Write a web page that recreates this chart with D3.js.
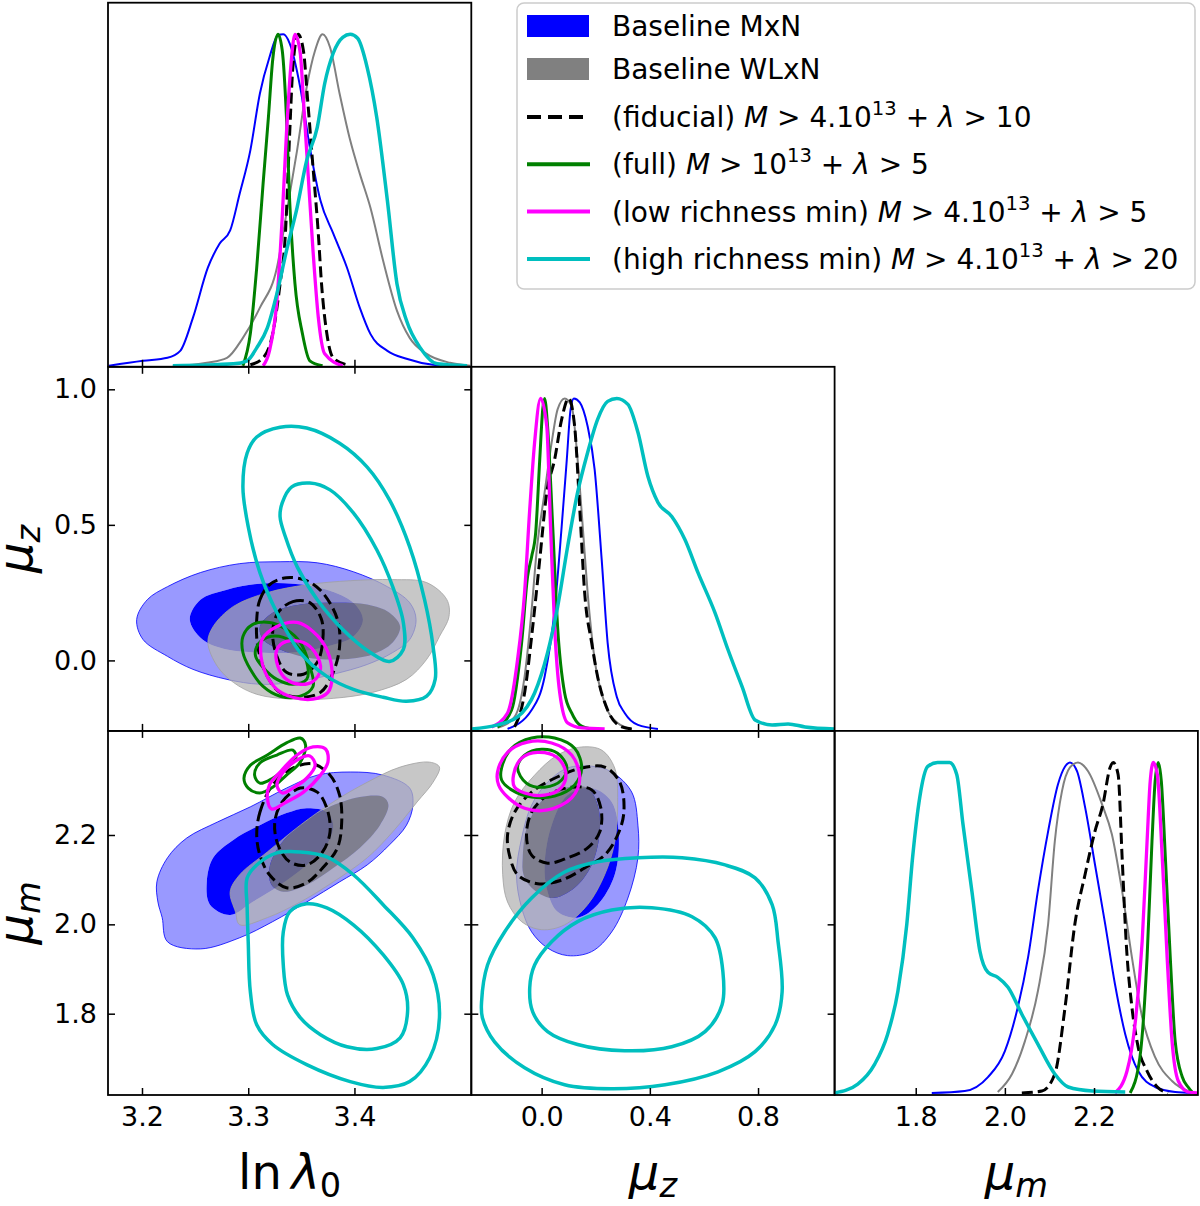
<!DOCTYPE html>
<html>
<head>
<meta charset="utf-8">
<script src="https://cdn.jsdelivr.net/npm/d3@7"></script>
<style>
  body { margin: 0; background: #fff; }
  svg { display: block; font-family: "DejaVu Sans", sans-serif; }
</style>
</head>
<body>
<svg id="fig" width="1200" height="1206"></svg>
<script>
// ---- parameter ranges and tick labels ----
const lnLDomain = [3.168, 3.510];
const muzDomain = [-0.26, 1.083];
const mumDomain = [1.618, 2.433];
const lnLTicks = [3.2, 3.3, 3.4];
const muzXTicks = [0.0, 0.4, 0.8];
const muzYTicks = [0.0, 0.5, 1.0];
const mumTicks = [1.8, 2.0, 2.2];

// ---- 1D marginals: [value, normalised density] ----
const mxnLnL = [[3.169,0.003],[3.201,0.018],[3.224,0.027],[3.236,0.048],[3.248,0.148],[3.262,0.298],[3.273,0.370],[3.283,0.410],[3.292,0.521],[3.302,0.651],[3.311,0.822],[3.320,0.931],[3.328,0.997],[3.333,1.0],[3.339,0.973],[3.349,0.840],[3.358,0.660],[3.368,0.500],[3.380,0.401],[3.393,0.298],[3.405,0.178],[3.415,0.099],[3.431,0.048],[3.449,0.024],[3.474,0.006],[3.509,0.0]];
const wlxnLnL = [[3.229,0.002],[3.261,0.012],[3.280,0.027],[3.295,0.087],[3.311,0.178],[3.327,0.298],[3.336,0.461],[3.346,0.651],[3.355,0.840],[3.363,0.952],[3.370,1.0],[3.377,0.961],[3.386,0.822],[3.396,0.681],[3.405,0.581],[3.415,0.479],[3.427,0.319],[3.440,0.169],[3.452,0.087],[3.468,0.039],[3.490,0.012],[3.509,0.003]];
const fidLnL = [[3.302,0.006],[3.314,0.027],[3.323,0.099],[3.330,0.25],[3.335,0.40],[3.339,0.70],[3.342,0.90],[3.347,1.0],[3.352,0.95],[3.356,0.80],[3.361,0.60],[3.366,0.40],[3.369,0.25],[3.374,0.10],[3.380,0.027],[3.393,0.006]];
const fullLnL = [[3.295,0.003],[3.302,0.10],[3.308,0.298],[3.314,0.551],[3.319,0.75],[3.323,0.922],[3.328,1.0],[3.332,0.952],[3.336,0.75],[3.339,0.50],[3.344,0.25],[3.351,0.10],[3.358,0.018],[3.370,0.003]];
const lowLnL = [[3.314,0.003],[3.320,0.048],[3.327,0.199],[3.332,0.449],[3.336,0.702],[3.340,0.90],[3.344,1.0],[3.349,0.943],[3.352,0.801],[3.356,0.599],[3.361,0.349],[3.366,0.148],[3.372,0.039],[3.389,0.003]];
const highLnL = [[3.229,0.003],[3.286,0.009],[3.299,0.018],[3.308,0.057],[3.318,0.117],[3.327,0.22],[3.336,0.349],[3.346,0.479],[3.355,0.62],[3.365,0.72],[3.372,0.852],[3.380,0.943],[3.389,0.991],[3.396,1.0],[3.403,0.988],[3.412,0.90],[3.421,0.75],[3.431,0.50],[3.440,0.25],[3.449,0.139],[3.462,0.057],[3.478,0.009],[3.506,0.003]];

const mxnMuz = [[-0.126,0.006],[-0.037,0.063],[0.011,0.163],[0.048,0.364],[0.074,0.614],[0.093,0.816],[0.107,0.967],[0.119,1.0],[0.141,0.988],[0.170,0.916],[0.196,0.786],[0.222,0.515],[0.244,0.265],[0.278,0.102],[0.307,0.054],[0.356,0.018],[0.430,0.006]];
const wlxnMuz = [[-0.163,0.009],[-0.1,0.042],[-0.063,0.163],[-0.037,0.364],[-0.019,0.536],[0.011,0.717],[0.037,0.867],[0.059,0.967],[0.085,1.0],[0.111,0.976],[0.133,0.816],[0.152,0.614],[0.170,0.416],[0.196,0.214],[0.233,0.084],[0.281,0.024],[0.333,0.006]];
const fidMuz = [[-0.1,0.012],[-0.063,0.114],[-0.033,0.313],[-0.007,0.515],[0.019,0.717],[0.048,0.816],[0.074,0.937],[0.1,1.0],[0.122,0.916],[0.141,0.666],[0.159,0.416],[0.185,0.265],[0.207,0.163],[0.244,0.063],[0.296,0.012],[0.333,0.006]];
const fullMuz = [[-0.163,0.012],[-0.111,0.063],[-0.074,0.265],[-0.052,0.464],[-0.037,0.524],[-0.022,0.596],[-0.007,0.816],[0.004,0.967],[0.011,1.0],[0.022,0.916],[0.041,0.614],[0.059,0.313],[0.085,0.114],[0.111,0.054],[0.141,0.018],[0.185,0.006]];
const lowMuz = [[-0.185,0.012],[-0.126,0.054],[-0.089,0.214],[-0.063,0.416],[-0.044,0.666],[-0.026,0.867],[-0.004,1.0],[0.019,0.916],[0.033,0.614],[0.048,0.313],[0.067,0.114],[0.096,0.024],[0.148,0.009],[0.233,0.006]];
const highMuz = [[-0.259,0.006],[-0.163,0.018],[-0.089,0.042],[-0.026,0.114],[0.022,0.235],[0.059,0.373],[0.096,0.554],[0.133,0.717],[0.170,0.837],[0.207,0.937],[0.244,0.991],[0.278,1.0],[0.319,0.982],[0.356,0.898],[0.393,0.765],[0.430,0.687],[0.481,0.645],[0.530,0.575],[0.578,0.476],[0.641,0.355],[0.689,0.244],[0.741,0.133],[0.789,0.033],[0.852,0.018],[0.911,0.021],[0.974,0.012],[1.083,0.006]];

const mxnMum = [[1.836,0.006],[1.910,0.012],[1.962,0.054],[2.0,0.132],[2.029,0.264],[2.052,0.414],[2.074,0.613],[2.097,0.793],[2.119,0.934],[2.135,0.988],[2.146,1.0],[2.162,0.973],[2.180,0.865],[2.202,0.694],[2.225,0.514],[2.247,0.333],[2.270,0.183],[2.299,0.072],[2.337,0.024],[2.382,0.009],[2.420,0.006]];
const wlxnMum = [[1.984,0.009],[2.016,0.063],[2.045,0.162],[2.074,0.312],[2.097,0.514],[2.112,0.763],[2.128,0.913],[2.146,0.985],[2.164,1.0],[2.187,0.973],[2.218,0.874],[2.240,0.784],[2.263,0.613],[2.285,0.414],[2.308,0.234],[2.337,0.114],[2.375,0.042],[2.411,0.012],[2.431,0.006]];
const fidMum = [[2.038,0.006],[2.083,0.012],[2.112,0.063],[2.135,0.264],[2.157,0.514],[2.180,0.664],[2.202,0.793],[2.220,0.874],[2.236,0.985],[2.243,1.0],[2.254,0.964],[2.263,0.715],[2.272,0.462],[2.285,0.264],[2.299,0.144],[2.319,0.072],[2.342,0.024],[2.366,0.006]];
const fullMum = [[2.281,0.006],[2.303,0.114],[2.319,0.414],[2.330,0.763],[2.337,0.943],[2.344,1.0],[2.351,0.943],[2.360,0.715],[2.371,0.414],[2.382,0.162],[2.398,0.054],[2.411,0.024],[2.422,0.006]];
const lowMum = [[2.247,0.006],[2.274,0.072],[2.292,0.213],[2.308,0.462],[2.319,0.763],[2.326,0.943],[2.333,1.0],[2.342,0.964],[2.353,0.715],[2.364,0.414],[2.375,0.162],[2.389,0.042],[2.411,0.009],[2.431,0.006]];
const highMum = [[1.618,0.006],[1.670,0.033],[1.708,0.093],[1.737,0.183],[1.760,0.312],[1.780,0.514],[1.793,0.715],[1.809,0.895],[1.827,0.988],[1.849,1.0],[1.876,1.0],[1.892,0.964],[1.906,0.814],[1.926,0.613],[1.944,0.432],[1.962,0.369],[1.984,0.354],[2.007,0.324],[2.038,0.243],[2.074,0.153],[2.112,0.063],[2.142,0.024],[2.196,0.012],[2.270,0.009]];

// ---- 2D contours (68% and 95%): ln lambda0 vs mu_z ----
const mxnA68 = [[3.245,0.151],[3.255,0.224],[3.280,0.261],[3.311,0.283],[3.342,0.283],[3.374,0.261],[3.399,0.213],[3.408,0.151],[3.399,0.088],[3.374,0.051],[3.342,0.029],[3.311,0.029],[3.280,0.040],[3.257,0.077]];
const mxnA95 = [[3.195,0.151],[3.205,0.224],[3.224,0.272],[3.255,0.324],[3.292,0.357],[3.330,0.364],[3.365,0.360],[3.399,0.327],[3.431,0.272],[3.452,0.213],[3.458,0.151],[3.452,0.077],[3.436,0.029],[3.412,-0.015],[3.380,-0.051],[3.342,-0.081],[3.311,-0.088],[3.280,-0.070],[3.248,-0.033],[3.224,0.015],[3.201,0.077]];
const wlxnA68 = [[3.311,0.125],[3.323,0.176],[3.349,0.206],[3.380,0.213],[3.412,0.206],[3.433,0.176],[3.443,0.125],[3.436,0.066],[3.417,0.022],[3.386,0.004],[3.355,0.011],[3.330,0.040],[3.314,0.077]];
const wlxnA95 = [[3.262,0.066],[3.267,0.125],[3.286,0.199],[3.318,0.25],[3.355,0.279],[3.396,0.294],[3.436,0.298],[3.468,0.287],[3.487,0.224],[3.489,0.162],[3.480,0.088],[3.468,0.004],[3.449,-0.070],[3.417,-0.118],[3.380,-0.140],[3.342,-0.143],[3.308,-0.125],[3.286,-0.081],[3.271,-0.022]];
const fidA68 = [[3.328,0.176],[3.342,0.217],[3.358,0.213],[3.369,0.151],[3.370,0.066],[3.365,-0.007],[3.352,-0.051],[3.336,-0.044],[3.327,0.015],[3.323,0.103]];
const fidA95 = [[3.308,0.151],[3.311,0.224],[3.320,0.279],[3.336,0.305],[3.355,0.294],[3.370,0.25],[3.384,0.151],[3.386,0.051],[3.380,-0.044],[3.368,-0.118],[3.349,-0.136],[3.330,-0.118],[3.318,-0.059],[3.309,0.051]];
const fullA68 = [[3.308,0.051],[3.318,0.085],[3.333,0.085],[3.349,0.040],[3.356,-0.022],[3.355,-0.070],[3.342,-0.088],[3.327,-0.070],[3.314,-0.026],[3.307,0.015]];
const fullA95 = [[3.295,0.088],[3.304,0.132],[3.320,0.140],[3.336,0.114],[3.349,0.066],[3.358,-0.022],[3.361,-0.096],[3.349,-0.132],[3.330,-0.132],[3.314,-0.096],[3.302,-0.033],[3.295,0.029]];
const lowA68 = [[3.327,0.040],[3.336,0.070],[3.352,0.066],[3.363,0.029],[3.368,-0.033],[3.361,-0.077],[3.349,-0.088],[3.336,-0.070],[3.328,-0.022]];
const lowA95 = [[3.313,0.077],[3.327,0.125],[3.346,0.140],[3.361,0.107],[3.374,0.040],[3.379,-0.059],[3.375,-0.118],[3.361,-0.143],[3.342,-0.136],[3.327,-0.107],[3.316,-0.044],[3.312,0.015]];
const highA68 = [[3.332,0.581],[3.341,0.640],[3.358,0.654],[3.377,0.629],[3.399,0.544],[3.421,0.408],[3.436,0.272],[3.446,0.140],[3.446,0.040],[3.433,-0.004],[3.415,0.029],[3.389,0.114],[3.365,0.224],[3.346,0.346],[3.335,0.456],[3.330,0.529]];
const highA95 = [[3.299,0.765],[3.308,0.824],[3.330,0.860],[3.355,0.857],[3.386,0.801],[3.412,0.713],[3.433,0.592],[3.452,0.419],[3.466,0.224],[3.474,0.051],[3.476,-0.070],[3.468,-0.132],[3.449,-0.151],[3.427,-0.136],[3.399,-0.107],[3.374,-0.059],[3.349,0.029],[3.327,0.176],[3.311,0.324],[3.300,0.493],[3.295,0.640]];

// ---- ln lambda0 vs mu_m ----
const mxnB68 = [[3.261,2.095],[3.267,2.149],[3.286,2.189],[3.311,2.222],[3.336,2.249],[3.355,2.260],[3.374,2.251],[3.380,2.222],[3.374,2.178],[3.355,2.133],[3.330,2.088],[3.304,2.050],[3.283,2.021],[3.264,2.044]];
const mxnB95 = [[3.214,2.095],[3.224,2.149],[3.242,2.193],[3.271,2.229],[3.302,2.263],[3.336,2.305],[3.365,2.334],[3.396,2.341],[3.427,2.334],[3.452,2.305],[3.455,2.267],[3.449,2.222],[3.433,2.178],[3.412,2.133],[3.386,2.095],[3.355,2.050],[3.323,2.006],[3.292,1.970],[3.255,1.945],[3.224,1.961],[3.219,2.015],[3.215,2.050]];
const wlxnB68 = [[3.320,2.126],[3.330,2.178],[3.349,2.222],[3.374,2.260],[3.405,2.285],[3.427,2.285],[3.432,2.267],[3.424,2.222],[3.405,2.171],[3.380,2.126],[3.355,2.088],[3.333,2.073],[3.322,2.088]];
const wlxnB95 = [[3.283,2.073],[3.292,2.111],[3.318,2.162],[3.349,2.222],[3.380,2.274],[3.412,2.318],[3.443,2.352],[3.471,2.363],[3.480,2.352],[3.474,2.318],[3.459,2.274],[3.436,2.207],[3.412,2.149],[3.380,2.095],[3.349,2.050],[3.318,2.015],[3.292,1.999],[3.288,2.028]];
const fidB68 = [[3.325,2.229],[3.332,2.274],[3.349,2.305],[3.365,2.296],[3.374,2.260],[3.377,2.207],[3.370,2.162],[3.355,2.133],[3.339,2.140],[3.328,2.178]];
const fidB95 = [[3.308,2.2],[3.311,2.251],[3.323,2.312],[3.342,2.350],[3.361,2.359],[3.377,2.334],[3.386,2.289],[3.388,2.229],[3.384,2.171],[3.370,2.126],[3.355,2.093],[3.336,2.082],[3.320,2.111],[3.311,2.155]];
const fullB68 = [[3.306,2.334],[3.311,2.361],[3.327,2.379],[3.342,2.390],[3.345,2.374],[3.336,2.350],[3.323,2.327],[3.311,2.316]];
const fullB95 = [[3.296,2.327],[3.302,2.356],[3.318,2.379],[3.336,2.406],[3.349,2.417],[3.354,2.401],[3.349,2.363],[3.336,2.334],[3.323,2.307],[3.311,2.294],[3.300,2.305]];
const lowB68 = [[3.327,2.312],[3.333,2.341],[3.346,2.368],[3.358,2.377],[3.363,2.356],[3.355,2.327],[3.342,2.305],[3.332,2.294]];
const lowB95 = [[3.318,2.283],[3.320,2.312],[3.330,2.341],[3.346,2.379],[3.361,2.397],[3.373,2.392],[3.375,2.363],[3.368,2.334],[3.352,2.296],[3.336,2.274],[3.322,2.258]];
const highB68 = [[3.333,1.983],[3.339,2.028],[3.355,2.046],[3.374,2.037],[3.399,1.999],[3.427,1.932],[3.446,1.865],[3.450,1.804],[3.443,1.746],[3.421,1.722],[3.393,1.726],[3.368,1.753],[3.349,1.791],[3.337,1.842],[3.333,1.909]];
const highB95 = [[3.299,2.104],[3.308,2.133],[3.327,2.160],[3.349,2.162],[3.374,2.151],[3.399,2.111],[3.427,2.044],[3.455,1.970],[3.474,1.887],[3.480,1.791],[3.471,1.702],[3.452,1.648],[3.427,1.635],[3.396,1.648],[3.355,1.686],[3.323,1.731],[3.308,1.775],[3.302,1.849],[3.300,1.961],[3.299,2.037]];

// ---- mu_z vs mu_m ----
const mxnC68 = [[0.011,2.133],[0.037,2.222],[0.096,2.289],[0.185,2.305],[0.259,2.274],[0.285,2.2],[0.270,2.111],[0.207,2.044],[0.133,2.015],[0.059,2.028],[0.022,2.073]];
const mxnC95 = [[-0.093,2.111],[-0.074,2.193],[-0.037,2.267],[0.022,2.318],[0.096,2.350],[0.185,2.354],[0.259,2.341],[0.333,2.296],[0.356,2.222],[0.356,2.149],[0.319,2.059],[0.259,1.983],[0.185,1.939],[0.096,1.930],[0.022,1.947],[-0.037,1.983],[-0.074,2.037]];
const wlxnC68 = [[-0.070,2.149],[-0.052,2.222],[0.011,2.283],[0.096,2.307],[0.170,2.305],[0.207,2.267],[0.215,2.207],[0.185,2.133],[0.122,2.082],[0.037,2.059],[-0.037,2.082],[-0.067,2.111]];
const wlxnC95 = [[-0.144,2.111],[-0.137,2.2],[-0.1,2.274],[-0.026,2.334],[0.059,2.379],[0.148,2.397],[0.222,2.390],[0.270,2.350],[0.281,2.274],[0.270,2.184],[0.233,2.111],[0.170,2.044],[0.085,1.999],[0.0,1.988],[-0.074,2.006],[-0.126,2.050]];
const fidC68 = [[-0.056,2.2],[-0.037,2.251],[0.022,2.289],[0.111,2.307],[0.185,2.301],[0.219,2.260],[0.215,2.207],[0.170,2.171],[0.096,2.149],[0.022,2.137],[-0.037,2.155]];
const fidC95 = [[-0.126,2.2],[-0.1,2.251],[-0.037,2.296],[0.048,2.327],[0.148,2.350],[0.233,2.352],[0.289,2.318],[0.304,2.251],[0.281,2.2],[0.233,2.155],[0.159,2.126],[0.074,2.099],[-0.015,2.091],[-0.089,2.111],[-0.119,2.155]];
const fullC68 = [[-0.089,2.350],[-0.063,2.379],[0.0,2.392],[0.059,2.383],[0.093,2.352],[0.074,2.323],[0.011,2.307],[-0.056,2.316]];
const fullC95 = [[-0.148,2.350],[-0.111,2.394],[-0.037,2.417],[0.048,2.417],[0.122,2.394],[0.148,2.350],[0.122,2.312],[0.048,2.287],[-0.037,2.285],[-0.111,2.301],[-0.148,2.323]];
const lowC68 = [[-0.104,2.334],[-0.074,2.372],[-0.015,2.385],[0.056,2.374],[0.089,2.341],[0.074,2.307],[0.011,2.289],[-0.063,2.294],[-0.1,2.307]];
const lowC95 = [[-0.163,2.341],[-0.126,2.385],[-0.052,2.408],[0.037,2.406],[0.111,2.379],[0.141,2.327],[0.111,2.283],[0.022,2.256],[-0.063,2.260],[-0.126,2.285],[-0.159,2.312]];
const highC68 = [[-0.044,1.858],[-0.026,1.909],[0.037,1.961],[0.133,2.006],[0.259,2.032],[0.407,2.037],[0.556,2.017],[0.641,1.970],[0.670,1.894],[0.667,1.820],[0.604,1.760],[0.481,1.726],[0.307,1.717],[0.133,1.731],[0.022,1.760],[-0.033,1.804]];
const highC95 = [[-0.222,1.827],[-0.2,1.909],[-0.137,1.983],[-0.037,2.059],[0.085,2.117],[0.207,2.140],[0.356,2.149],[0.519,2.149],[0.678,2.133],[0.789,2.104],[0.852,2.044],[0.874,1.961],[0.889,1.849],[0.863,1.775],[0.789,1.715],[0.652,1.670],[0.456,1.641],[0.259,1.632],[0.085,1.641],[-0.063,1.679],[-0.174,1.737],[-0.219,1.791]];

// ---- legend labels: [text, 'i' italic | 's' superscript] ----
const legendLabels = [
  [['Baseline MxN']],
  [['Baseline WLxN']],
  [['(fiducial) '], ['M', 'i'], [' > 4.10'], ['13', 's'], [' + '], ['λ', 'i'], [' > 10']],
  [['(full) '], ['M', 'i'], [' > 10'], ['13', 's'], [' + '], ['λ', 'i'], [' > 5']],
  [['(low richness min) '], ['M', 'i'], [' > 4.10'], ['13', 's'], [' + '], ['λ', 'i'], [' > 5']],
  [['(high richness min) '], ['M', 'i'], [' > 4.10'], ['13', 's'], [' + '], ['λ', 'i'], [' > 20']]
];

// lookup tables built from the arrays above
const marginals = {
  mxn: { lnL: mxnLnL, muz: mxnMuz, mum: mxnMum },
  wlxn: { lnL: wlxnLnL, muz: wlxnMuz, mum: wlxnMum },
  fid: { lnL: fidLnL, muz: fidMuz, mum: fidMum },
  full: { lnL: fullLnL, muz: fullMuz, mum: fullMum },
  low: { lnL: lowLnL, muz: lowMuz, mum: lowMum },
  high: { lnL: highLnL, muz: highMuz, mum: highMum }
};
const contours = {
  mxn: { lnL_muz: [mxnA68, mxnA95], lnL_mum: [mxnB68, mxnB95], muz_mum: [mxnC68, mxnC95] },
  wlxn: { lnL_muz: [wlxnA68, wlxnA95], lnL_mum: [wlxnB68, wlxnB95], muz_mum: [wlxnC68, wlxnC95] },
  fid: { lnL_muz: [fidA68, fidA95], lnL_mum: [fidB68, fidB95], muz_mum: [fidC68, fidC95] },
  full: { lnL_muz: [fullA68, fullA95], lnL_mum: [fullB68, fullB95], muz_mum: [fullC68, fullC95] },
  low: { lnL_muz: [lowA68, lowA95], lnL_mum: [lowB68, lowB95], muz_mum: [lowC68, lowC95] },
  high: { lnL_muz: [highA68, highA95], lnL_mum: [highB68, highB95], muz_mum: [highC68, highC95] }
};

const styles = {
  mxn: { color: '#0000ff', width: 2, filled: true, ring: '#0000ff', ringOpacity: 0.4, core: '#0000ff', coreOpacity: 1, edge: '#0000ff', patch: '#0000ff' },
  wlxn: { color: '#808080', width: 2, filled: true, ring: '#b4b4b4', ringOpacity: 0.75, core: '#797979', coreOpacity: 0.84, edge: '#a0a0a0', patch: '#808080' },
  fid: { color: '#000000', width: 3, dash: '11,5' },
  full: { color: '#008000', width: 3 },
  low: { color: '#ff00ff', width: 3.3 },
  high: { color: '#00bfbf', width: 3.5 }
};
const order = ['mxn', 'wlxn', 'fid', 'full', 'low', 'high'];

const params = [
  { key: 'lnL', domain: lnLDomain, xTicks: lnLTicks, yTicks: lnLTicks },
  { key: 'muz', domain: muzDomain, xTicks: muzXTicks, yTicks: muzYTicks },
  { key: 'mum', domain: mumDomain, xTicks: mumTicks, yTicks: mumTicks }
];

const W = 363.3, H = 364.1, X0 = 108, Y0 = 2.7;
const TICK_FONT = 27;
const fmt = d3.format('.1f');

const svg = d3.select('#fig');
svg.append('rect').attr('width', 1200).attr('height', 1206).attr('fill', '#fff');
const defs = svg.append('defs');

function styleAxis(g) {
  g.select('.domain').remove();
  g.selectAll('.tick line').attr('stroke', '#000').attr('stroke-width', 1.5);
  g.selectAll('.tick text')
    .attr('fill', '#000')
    .attr('font-size', TICK_FONT)
    .attr('font-family', '"DejaVu Sans", sans-serif');
}

function draw1D(g, key, x, y) {
  const line = d3.line()
    .x(d => x(d[0]))
    .y(d => y(d[1]))
    .curve(d3.curveMonotoneX);
  order.forEach(s => {
    const st = styles[s];
    g.append('path')
      .attr('d', line(marginals[s][key]))
      .attr('fill', 'none')
      .attr('stroke', st.color)
      .attr('stroke-width', st.width)
      .attr('stroke-dasharray', st.dash || null)
      .attr('stroke-linejoin', 'round');
  });
}

function draw2D(g, key, x, y) {
  const line = d3.line()
    .x(d => x(d[0]))
    .y(d => y(d[1]))
    .curve(d3.curveCatmullRomClosed.alpha(0.5));
  order.forEach(s => {
    const st = styles[s];
    const [c68, c95] = contours[s][key];
    if (st.filled) {
      g.append('path')
        .attr('d', line(c95) + line(c68))
        .attr('fill-rule', 'evenodd')
        .attr('fill', st.ring)
        .attr('fill-opacity', st.ringOpacity);
      g.append('path')
        .attr('d', line(c68))
        .attr('fill', st.core)
        .attr('fill-opacity', st.coreOpacity);
      g.append('path')
        .attr('d', line(c95))
        .attr('fill', 'none')
        .attr('stroke', st.edge)
        .attr('stroke-width', 1)
        .attr('stroke-opacity', 0.8);
    } else {
      [c95, c68].forEach(c => {
        g.append('path')
          .attr('d', line(c))
          .attr('fill', 'none')
          .attr('stroke', st.color)
          .attr('stroke-width', st.width)
          .attr('stroke-dasharray', st.dash || null)
          .attr('stroke-linejoin', 'round');
      });
    }
  });
}

params.forEach((py, i) => {
  params.forEach((px, j) => {
    if (j > i) return;
    const x0 = X0 + j * W, y0 = Y0 + i * H;
    const x = d3.scaleLinear().domain(px.domain).range([x0, x0 + W]);
    const y = i === j
      ? d3.scaleLinear().domain([0, 1.095]).range([y0 + H, y0])
      : d3.scaleLinear().domain(py.domain).range([y0 + H, y0]);

    const clipId = `clip-${i}-${j}`;
    defs.append('clipPath').attr('id', clipId)
      .append('rect').attr('x', x0).attr('y', y0).attr('width', W).attr('height', H);
    const g = svg.append('g').attr('clip-path', `url(#${clipId})`);

    if (i === j) draw1D(g, px.key, x, y);
    else draw2D(g, `${px.key}_${py.key}`, x, y);

    // inward ticks
    svg.append('g')
      .attr('transform', `translate(0,${y0 + H})`)
      .call(d3.axisBottom(x).tickValues(px.xTicks).tickSizeInner(-7).tickSizeOuter(0)
        .tickPadding(12).tickFormat(i === 2 ? fmt : ''))
      .call(styleAxis);
    if (i !== j) {
      svg.append('g')
        .attr('transform', `translate(0,${y0})`)
        .call(d3.axisTop(x).tickValues(px.xTicks).tickSizeInner(-7).tickSizeOuter(0).tickFormat(''))
        .call(styleAxis);
      svg.append('g')
        .attr('transform', `translate(${x0},0)`)
        .call(d3.axisLeft(y).tickValues(py.yTicks).tickSizeInner(-7).tickSizeOuter(0)
          .tickPadding(11).tickFormat(j === 0 ? fmt : ''))
        .call(styleAxis);
      svg.append('g')
        .attr('transform', `translate(${x0 + W},0)`)
        .call(d3.axisRight(y).tickValues(py.yTicks).tickSizeInner(-7).tickSizeOuter(0).tickFormat(''))
        .call(styleAxis);
    }

    svg.append('rect')
      .attr('x', x0).attr('y', y0).attr('width', W).attr('height', H)
      .attr('fill', 'none').attr('stroke', '#000').attr('stroke-width', 1.8);
  });
});

// ---- axis titles ----
const TITLE_FONT = 48;
function title(parts, xPos, yPos, rotate) {
  const t = svg.append('text')
    .attr('transform', `translate(${xPos},${yPos})` + (rotate ? ' rotate(-90)' : ''))
    .attr('text-anchor', 'middle')
    .attr('font-size', TITLE_FONT)
    .attr('fill', '#000');
  parts.forEach(([txt, kind]) => {
    const ts = t.append('tspan').text(txt);
    if (kind === 'i') ts.attr('font-style', 'italic');
    if (kind === 'sub' || kind === 'subi') {
      ts.attr('font-size', TITLE_FONT * 0.7).attr('dy', 8);
      if (kind === 'subi') ts.attr('font-style', 'italic');
    }
  });
}
const colMid = j => X0 + j * W + W / 2;
const rowMid = i => Y0 + i * H + H / 2;
title([['ln', null], ['\u2009λ', 'i'], ['0', 'sub']], colMid(0), 1189, false);
title([['μ', 'i'], ['z', 'subi']], colMid(1), 1189, false);
title([['μ', 'i'], ['m', 'subi']], colMid(2), 1189, false);
title([['μ', 'i'], ['z', 'subi']], 32, rowMid(1), true);
title([['μ', 'i'], ['m', 'subi']], 32, rowMid(2), true);

// ---- legend ----
const LEG_FONT = 28;
const legend = svg.append('g');
legend.append('rect')
  .attr('x', 517).attr('y', 3).attr('width', 678).attr('height', 286).attr('rx', 7)
  .attr('fill', '#fff').attr('fill-opacity', 0.9)
  .attr('stroke', '#cccccc').attr('stroke-width', 1.5);

const rowY = k => k < 2 ? 26 + 43 * k : 117 + (k - 2) * 47.3;
order.forEach((s, k) => {
  const st = styles[s];
  const cy = rowY(k);
  if (st.filled) {
    legend.append('rect')
      .attr('x', 527).attr('y', cy - 11).attr('width', 62).attr('height', 22)
      .attr('fill', st.patch);
  } else {
    legend.append('line')
      .attr('x1', 527).attr('x2', 590).attr('y1', cy).attr('y2', cy)
      .attr('stroke', st.color).attr('stroke-width', 4)
      .attr('stroke-dasharray', st.dash ? '14,7' : null);
  }
  const t = legend.append('text')
    .attr('x', 612).attr('y', cy).attr('dy', '0.36em')
    .attr('font-size', LEG_FONT).attr('fill', '#000');
  let raised = false;
  legendLabels[k].forEach(([txt, kind]) => {
    const ts = t.append('tspan').text(txt);
    if (kind === 'i') ts.attr('font-style', 'italic');
    if (kind === 's') {
      ts.attr('font-size', LEG_FONT * 0.7).attr('dy', -12);
      raised = true;
    } else if (raised) {
      ts.attr('dy', 12);
      raised = false;
    }
  });
});
</script>
</body>
</html>
